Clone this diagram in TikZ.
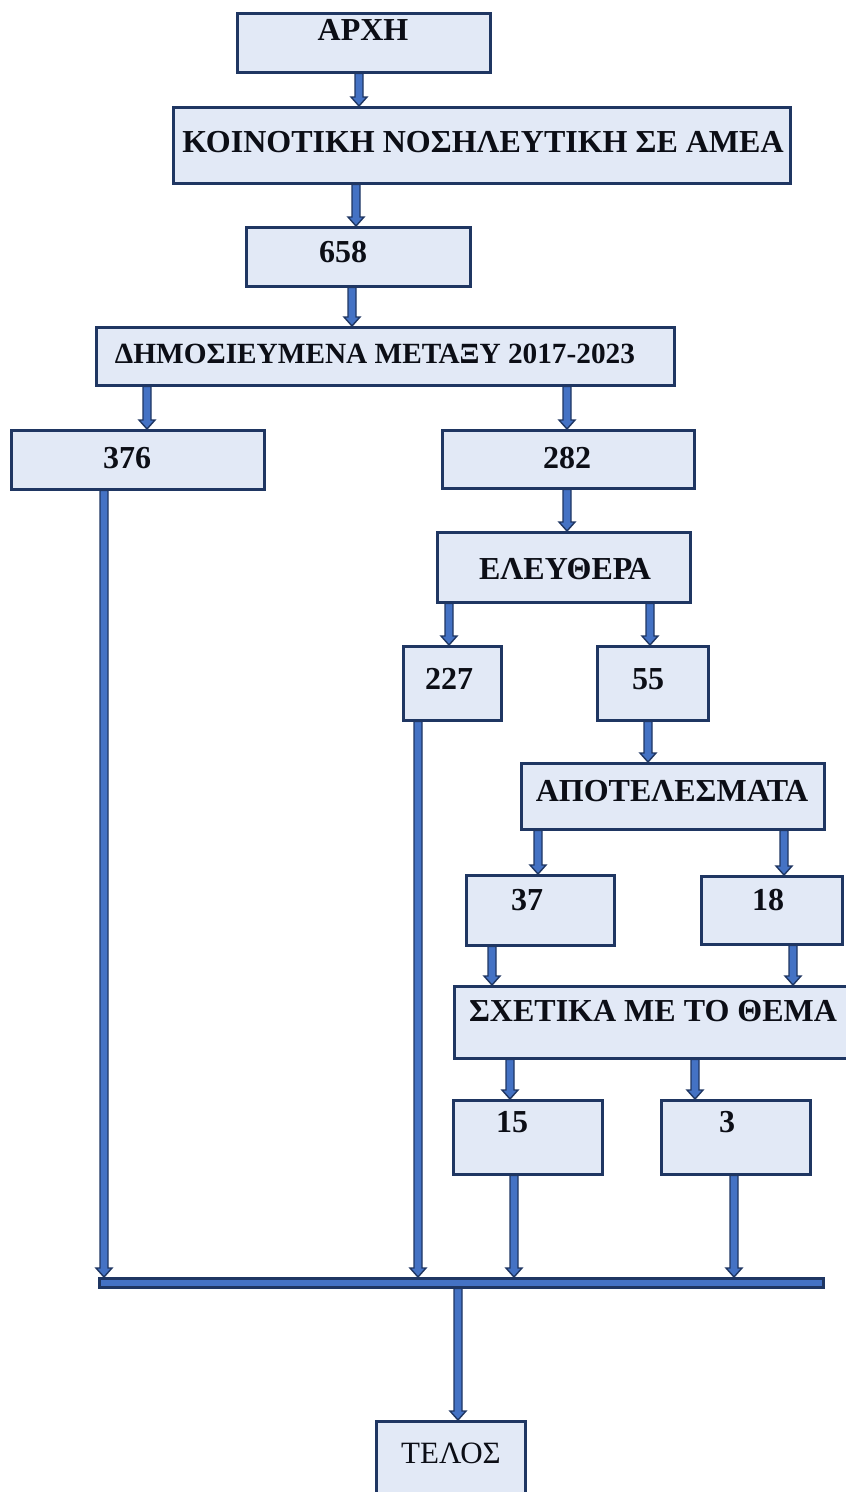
\documentclass[tikz,border=0pt]{standalone}
\usepackage{fontspec}
\setmainfont{Liberation Serif}
\usetikzlibrary{calc}
\definecolor{boxfill}{RGB}{226,233,246}
\definecolor{navy}{RGB}{31,54,98}
\definecolor{arrblue}{RGB}{68,114,196}
\definecolor{txt}{RGB}{12,14,22}
\tikzset{
  box/.style={draw=navy, fill=boxfill, line width=2.5pt, rectangle, inner sep=0pt},
  lbl/.style={anchor=base, inner sep=0pt, text=txt, font=\fontsize{32}{33}\selectfont\bfseries},
  arr/.style={draw=navy, fill=arrblue, line width=1.4pt, line join=miter},
}
\newcommand\bx[5]{\node[box, anchor=north west, minimum width={(#4-#2)*1pt}, minimum height={(#5-#3)*1pt}] (#1) at (#2,#3) {};}
\newcommand\barrow[3]{\filldraw[arr] let \p1=(#2), \p2=(#3) in
  (#1pt-4pt,\y1) -- (#1pt-4pt,\y2+9pt) -- (#1pt-8pt,\y2+9pt) -- (#1pt,\y2) -- (#1pt+8pt,\y2+9pt) -- (#1pt+4pt,\y2+9pt) -- (#1pt+4pt,\y1) -- cycle;}
\begin{document}
\begin{tikzpicture}[x=1pt,y=-1pt]
\useasboundingbox (0,0) rectangle (846,1492);
\clip (0,0) rectangle (846,1492);
% boxes
\bx{start}{236}{12}{489}{71}
\bx{kn}{172}{106}{789}{182}
\bx{n658}{245}{226}{469}{285}
\bx{dim}{95}{326}{673}{384}
\bx{n376}{10}{429}{263}{488}
\bx{n282}{441}{429}{693}{487}
\bx{ele}{436}{531}{689}{601}
\bx{n227}{402}{645}{500}{719}
\bx{n55}{596}{645}{707}{719}
\bx{apo}{520}{762}{823}{828}
\bx{n37}{465}{874}{613}{944}
\bx{n18}{700}{875}{841}{943}
\bx{sxe}{453}{985}{862}{1057}
\bx{n15}{452}{1099}{601}{1173}
\bx{n3}{660}{1099}{809}{1173}
\bx{fin}{375}{1420}{524}{1512}
\node[draw=navy, fill=arrblue, line width=2.5pt, anchor=north west, inner sep=0pt, minimum width=724pt, minimum height=9pt] (bar) at (98,1277) {};
% labels
\node[lbl] (t-start) at (363,40) {ΑΡΧΗ};
\node[lbl] (t-kn) at (483,152) {ΚΟΙΝΟΤΙΚΗ ΝΟΣΗΛΕΥΤΙΚΗ ΣΕ ΑΜΕΑ};
\node[lbl] (t-658) at (343,262) {658};
\node[lbl, font=\fontsize{29.3}{30}\selectfont\bfseries] (t-dim) at (375,363) {ΔΗΜΟΣΙΕΥΜΕΝΑ ΜΕΤΑΞΥ 2017-2023};
\node[lbl] (t-376) at (127,468) {376};
\node[lbl] (t-282) at (567,468) {282};
\node[lbl] (t-ele) at (565,579) {ΕΛΕΥΘΕΡΑ};
\node[lbl] (t-227) at (449,689) {227};
\node[lbl] (t-55) at (648,689) {55};
\node[lbl] (t-apo) at (672,801) {ΑΠΟΤΕΛΕΣΜΑΤΑ};
\node[lbl] (t-37) at (527,910) {37};
\node[lbl] (t-18) at (768,910) {18};
\node[lbl] (t-sxe) at (653,1021) {ΣΧΕΤΙΚΑ ΜΕ ΤΟ ΘΕΜΑ};
\node[lbl] (t-15) at (512,1132) {15};
\node[lbl] (t-3) at (727,1132) {3};
\node[lbl, font=\fontsize{31}{32}\selectfont] (t-fin) at (451,1463) {ΤΕΛΟΣ};
% arrows
\barrow{359}{start.south}{kn.north}
\barrow{356}{kn.south}{n658.north}
\barrow{352}{n658.south}{dim.north}
\barrow{147}{dim.south}{n376.north}
\barrow{567}{dim.south}{n282.north}
\barrow{567}{n282.south}{ele.north}
\barrow{449}{ele.south}{n227.north}
\barrow{650}{ele.south}{n55.north}
\barrow{648}{n55.south}{apo.north}
\barrow{538}{apo.south}{n37.north}
\barrow{784}{apo.south}{n18.north}
\barrow{492}{n37.south}{sxe.north}
\barrow{793}{n18.south}{sxe.north}
\barrow{510}{sxe.south}{n15.north}
\barrow{695}{sxe.south}{n3.north}
\barrow{104}{n376.south}{bar.north}
\barrow{418}{n227.south}{bar.north}
\barrow{514}{n15.south}{bar.north}
\barrow{734}{n3.south}{bar.north}
\barrow{458}{bar.south}{fin.north}
\end{tikzpicture}
\end{document}
